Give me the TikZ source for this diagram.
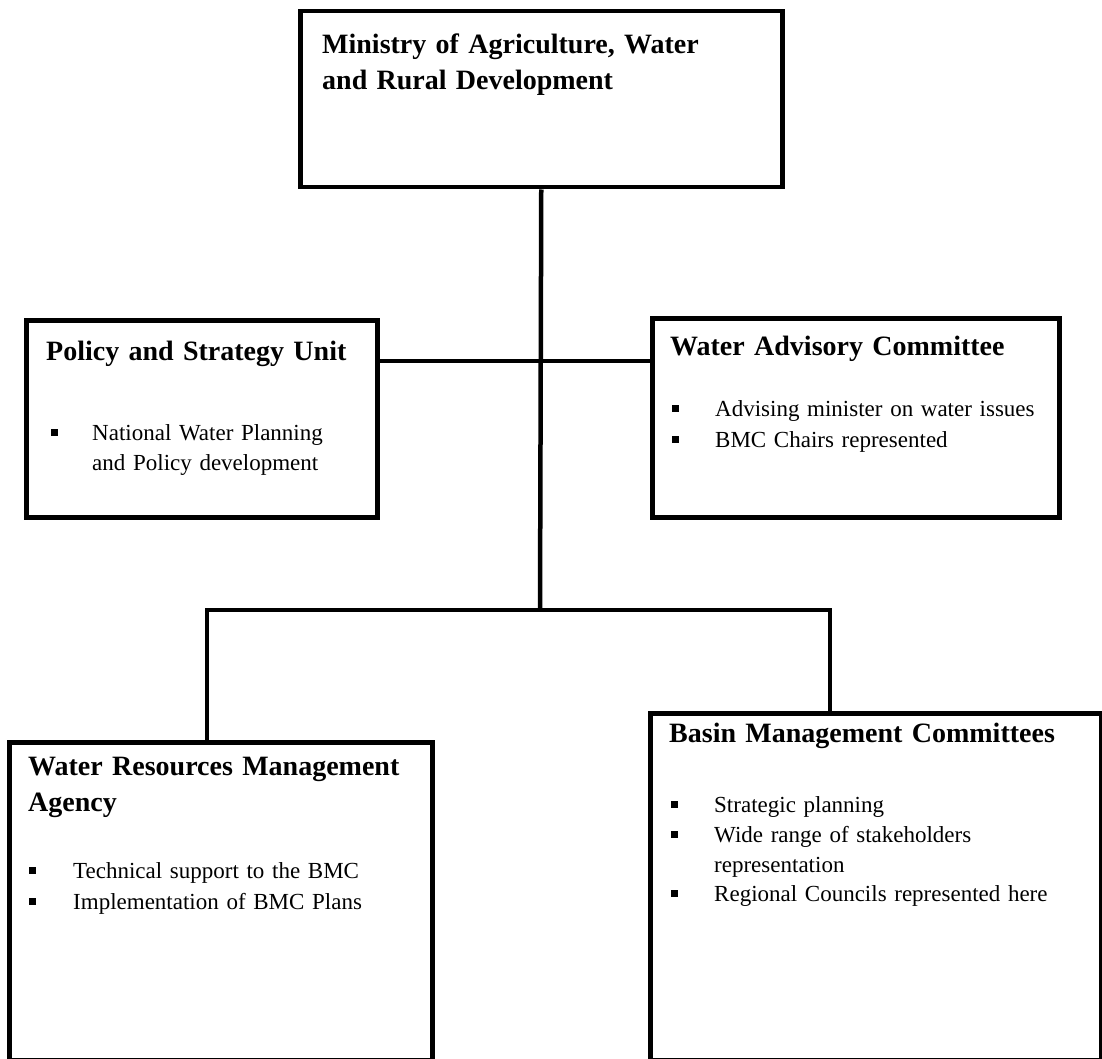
\documentclass[tikz,border=0pt]{standalone}
\usepackage{fontspec}
\setmainfont{Liberation Serif}
\begin{document}
\begin{tikzpicture}[x=1pt, y=-1pt,
  box/.style={draw, line width=4.5pt, anchor=north west, inner sep=0pt},
  head/.style={anchor=base west, inner sep=0pt, text width=460pt, align=left, font=\bfseries\fontsize{28}{36}\selectfont},
  item/.style={anchor=base west, inner sep=0pt, text width=380pt, align=left, font=\fontsize{23}{30.5}\selectfont},
  dot/.style={fill, inner sep=0pt, minimum size=7pt},
  link/.style={line width=4.5pt, line join=miter}]
\useasboundingbox (0,0) rectangle (1102,1059);
\node[box, minimum width=482pt, minimum height=176pt] (mawrd) at (298,9){};
\node[head] (mawrdhead) at (322,54){Ministry of Agriculture, Water\\and Rural Development};
\node[box, minimum width=351pt, minimum height=197pt] (psu) at (24,318){};
\node[head] (psuhead) at (46,360){Policy and Strategy Unit};
\node[dot] (psudot) at (54,432){};
\node[item] (psuitem) at (92,440){National Water Planning\\and Policy development};
\node[box, minimum width=407pt, minimum height=199pt] (wac) at (650,316){};
\node[head] (wachead) at (670,355){Water Advisory Committee};
\node[dot] (wacdota) at (675,408){};
\node[item] (wacitema) at (715,416){Advising minister on water issues};
\node[dot] (wacdotb) at (675,439){};
\node[item] (wacitemb) at (715,447){BMC Chairs represented};
\node[box, minimum width=423pt, minimum height=318pt] (wrma) at (7,740){};
\node[head] (wrmahead) at (28,775){Water Resources Management\\Agency};
\node[dot] (wrmadota) at (32,870){};
\node[item] (wrmaitema) at (73,878){Technical support to the BMC};
\node[dot] (wrmadotb) at (32,901){};
\node[item] (wrmaitemb) at (73,909){Implementation of BMC Plans};
\node[box, minimum width=451pt, minimum height=347pt] (bmc) at (648,711){};
\node[head] (bmchead) at (669,742){Basin Management Committees};
\node[dot] (bmcdota) at (674,804){};
\node[item] (bmcitema) at (714,812){Strategic planning};
\node[dot] (bmcdotb) at (674,834){};
\node[item] (bmcitemb) at (714,842){Wide range of stakeholders\\representation};
\node[dot] (bmcdotc) at (674,893){};
\node[item] (bmcitemc) at (714,901){Regional Councils represented here};
\coordinate (midj) at (540,361);
\coordinate (botj) at (540,610);
\coordinate (wrmaj) at (207,610);
\coordinate (bmcj) at (830,610);
\draw[link](mawrd.south) -- (botj);
\draw[link](psu.east |- midj) -- (wac.west |- midj);
\draw[link](wrma.north -| wrmaj) -- (wrmaj) -- (bmcj) -- (bmc.north -| bmcj);
\end{tikzpicture}
\end{document}
